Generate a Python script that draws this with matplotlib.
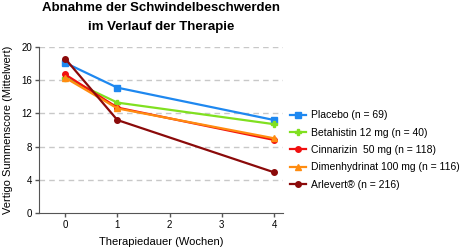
import matplotlib
matplotlib.use("Agg")
import matplotlib.pyplot as plt

plt.rcParams['font.family'] = ['Liberation Sans', 'DejaVu Sans']

weeks = [0, 1, 4]
series_names = ["Placebo (n = 69)", "Betahistin 12 mg (n = 40)", "Cinnarizin  50 mg (n = 118)",
                "Dimenhydrinat 100 mg (n = 116)", "Arlevert\u00ae (n = 216)"]
placebo = [18.1, 15.1, 11.2]
betahistin = [16.3, 13.3, 10.7]
cinnarizin = [16.7, 12.7, 8.8]
dimenhydrinat = [16.3, 12.6, 9.0]
arlevert = [18.6, 11.2, 4.9]
colors = ["#1e88f0", "#80e020", "#f01010", "#ff8c10", "#8b0a0a"]
markers = ["s", "P", "o", "^", "o"]
yticks = [0, 4, 8, 12, 16, 20]
xticks = [0, 1, 2, 3, 4]

fig = plt.figure(figsize=(4.68, 2.49), dpi=100)
ax = fig.add_axes([39/468, 1-213/249, (283-39)/468, (213-47)/249])

for vals, c, m, name in zip([placebo, betahistin, cinnarizin, dimenhydrinat, arlevert],
                            colors, markers, series_names):
    ax.plot(weeks, vals, color=c, marker=m, markersize=4, linewidth=1.6, label=name, zorder=3)

ax.set_xlim(-0.5, 4.17)
ax.set_ylim(0, 20)
ax.set_yticks(yticks)
ax.set_xticks(xticks)
for y in yticks[1:]:
    ax.axhline(y, color="#c8c8c8", linestyle=(0, (4, 3)), linewidth=1, zorder=1)
ax.tick_params(labelsize=7, length=3, color="#555555", width=1, pad=2)
for s in ["top", "right"]:
    ax.spines[s].set_visible(False)
for s in ["left", "bottom"]:
    ax.spines[s].set_color("#555555")
ax.set_ylabel("Vertigo Summenscore (Mittelwert)", fontsize=8, labelpad=6)
ax.set_xlabel("Therapiedauer (Wochen)", fontsize=8, labelpad=5)

fig.text(0.345, 0.99, "Abnahme der Schwindelbeschwerden\nim Verlauf der Therapie",
         ha="center", va="top", fontsize=9.5, fontweight="bold", linespacing=1.75)

ax.legend(loc="center left", bbox_to_anchor=(1.0, 0.38), frameon=False, fontsize=7.5,
          handlelength=1.5, handletextpad=0.5, labelspacing=0.7, borderaxespad=0.3)

fig.savefig("out.png", dpi=100)
